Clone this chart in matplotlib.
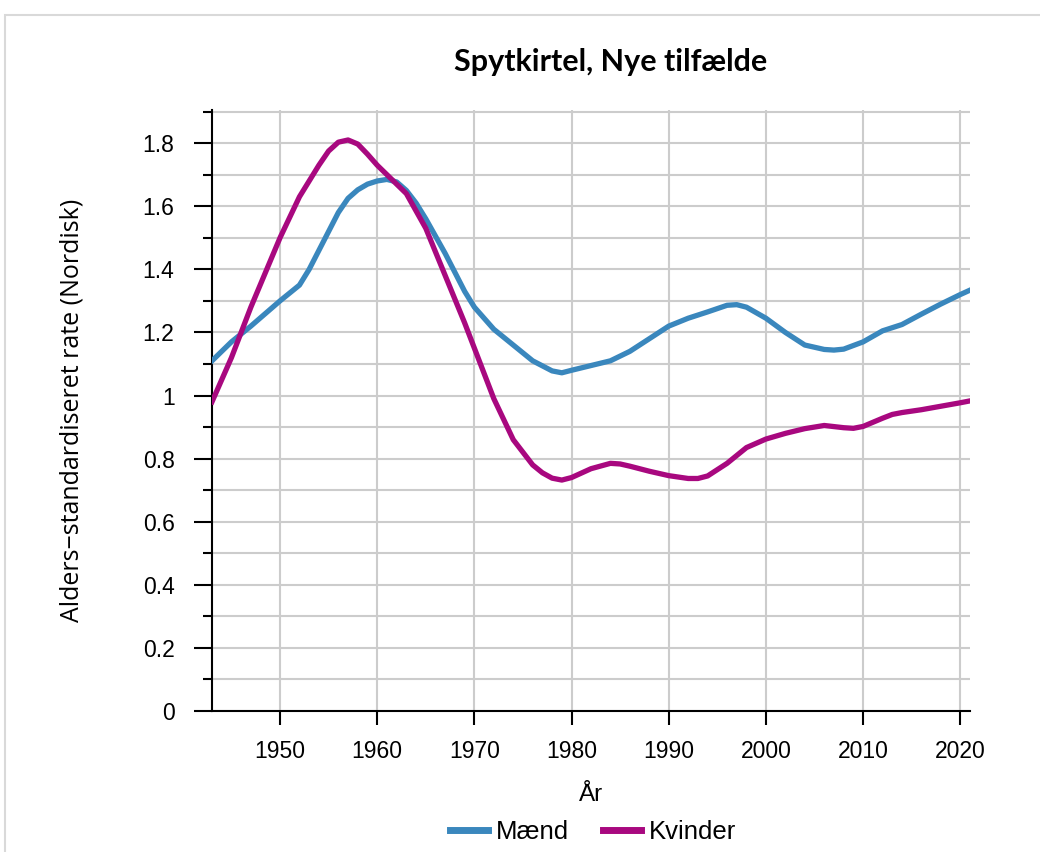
import matplotlib.pyplot as plt
from matplotlib.ticker import MultipleLocator
from matplotlib.patches import Rectangle

# Data
men_years = [1943, 1945, 1947, 1950, 1952, 1953, 1954, 1955, 1956, 1957, 1958, 1959,
             1960, 1961, 1962, 1963, 1964, 1965, 1967, 1969, 1970, 1972, 1974, 1976,
             1978, 1979, 1980, 1982, 1984, 1986, 1988, 1990, 1992, 1994, 1996, 1997,
             1998, 2000, 2002, 2004, 2006, 2007, 2008, 2010, 2012, 2014, 2016, 2018,
             2020, 2021]
men = [1.11, 1.17, 1.22, 1.30, 1.35, 1.40, 1.46, 1.52, 1.58, 1.625, 1.652, 1.67,
       1.68, 1.685, 1.677, 1.65, 1.61, 1.56, 1.45, 1.33, 1.28, 1.21, 1.16, 1.11,
       1.078, 1.072, 1.08, 1.095, 1.11, 1.14, 1.18, 1.22, 1.245, 1.265, 1.286, 1.288,
       1.28, 1.245, 1.20, 1.16, 1.146, 1.144, 1.147, 1.17, 1.205, 1.225, 1.258, 1.29,
       1.32, 1.334]

women_years = [1943, 1945, 1947, 1950, 1952, 1953, 1954, 1955, 1956, 1957, 1958, 1959,
               1960, 1961, 1963, 1965, 1967, 1969, 1970, 1972, 1974, 1976, 1977, 1978,
               1979, 1980, 1982, 1984, 1985, 1986, 1988, 1990, 1992, 1993, 1994, 1996,
               1998, 2000, 2002, 2004, 2006, 2008, 2009, 2010, 2012, 2013, 2014, 2016,
               2018, 2020, 2021]
women = [0.98, 1.12, 1.28, 1.50, 1.63, 1.68, 1.73, 1.775, 1.803, 1.81, 1.797, 1.765,
         1.73, 1.70, 1.64, 1.53, 1.38, 1.23, 1.15, 0.99, 0.86, 0.78, 0.755, 0.738,
         0.732, 0.74, 0.768, 0.785, 0.783, 0.776, 0.76, 0.746, 0.737, 0.737, 0.745, 0.785,
         0.835, 0.862, 0.88, 0.895, 0.905, 0.898, 0.896, 0.902, 0.928, 0.94, 0.946, 0.955,
         0.966, 0.977, 0.983]

x_ticks = [1950, 1960, 1970, 1980, 1990, 2000, 2010, 2020]
y_ticks = [0, 0.2, 0.4, 0.6, 0.8, 1.0, 1.2, 1.4, 1.6, 1.8]
y_labels = ['0', '0.2', '0.4', '0.6', '0.8', '1', '1.2', '1.4', '1.6', '1.8']

tick_font = ['Liberation Sans Narrow', 'Liberation Sans', 'DejaVu Sans']

fig = plt.figure(figsize=(10.4, 8.52), dpi=100)
ax = fig.add_axes([212 / 1040, 1 - 711 / 852, (970 - 212) / 1040, (711 - 110) / 852])

# light frame around the chart
fig.patches.append(Rectangle((5 / 1040, -0.1), 1.2, 1 - 15 / 852 + 0.1,
                             transform=fig.transFigure, fill=False,
                             edgecolor='#d9d9d9', linewidth=1.5))

ax.plot(men_years, men, color='#3a87bd', linewidth=3.8, label='Mænd',
        solid_joinstyle='round', zorder=3)
ax.plot(women_years, women, color='#a8087f', linewidth=3.8, label='Kvinder',
        solid_joinstyle='round', zorder=3)

ax.set_xlim(1943, 2021)
ax.set_ylim(0, 1.905)

ax.set_xticks(x_ticks)
ax.set_xticklabels([str(x) for x in x_ticks], family=tick_font, fontsize=16.5)
ax.set_yticks(y_ticks)
ax.set_yticklabels(y_labels, family=tick_font, fontsize=16.5)
ax.yaxis.set_minor_locator(MultipleLocator(0.1))

ax.tick_params(axis='y', which='major', length=13, width=1.5, pad=14)
ax.tick_params(axis='y', which='minor', length=6.5, width=1.5)
ax.tick_params(axis='x', which='major', length=10, width=1.5, pad=11)

ax.grid(True, axis='x', which='major', color='#cccccc', linewidth=1.5)
ax.grid(True, axis='y', which='both', color='#cccccc', linewidth=1.5)
ax.set_axisbelow(True)

for s in ['top', 'right']:
    ax.spines[s].set_visible(False)
ax.spines['left'].set_linewidth(1.5)
ax.spines['bottom'].set_linewidth(1.5)

ax.set_xlabel('År', family=tick_font, fontsize=17.5, labelpad=15)
ax.set_ylabel('Alders\u2212standardiseret rate (Nordisk)', family=['Open Sans', 'DejaVu Sans'],
              fontsize=18)
ax.yaxis.set_label_coords(-0.168, 0.5)

fig.text(611 / 1040, 1 - 62 / 852, 'Spytkirtel, Nye tilfælde', family=['Lato', 'DejaVu Sans'],
         fontweight='bold', fontsize=22, ha='center', va='center')

leg = fig.legend(loc='center', bbox_to_anchor=(593 / 1040, 1 - 832 / 852), ncol=2,
                 frameon=False, prop={'family': tick_font, 'size': 18.5},
                 handlelength=1.5, handletextpad=0.3, columnspacing=1.3)
for line in leg.get_lines():
    line.set_linewidth(5)

plt.savefig('out.png', dpi=100)
